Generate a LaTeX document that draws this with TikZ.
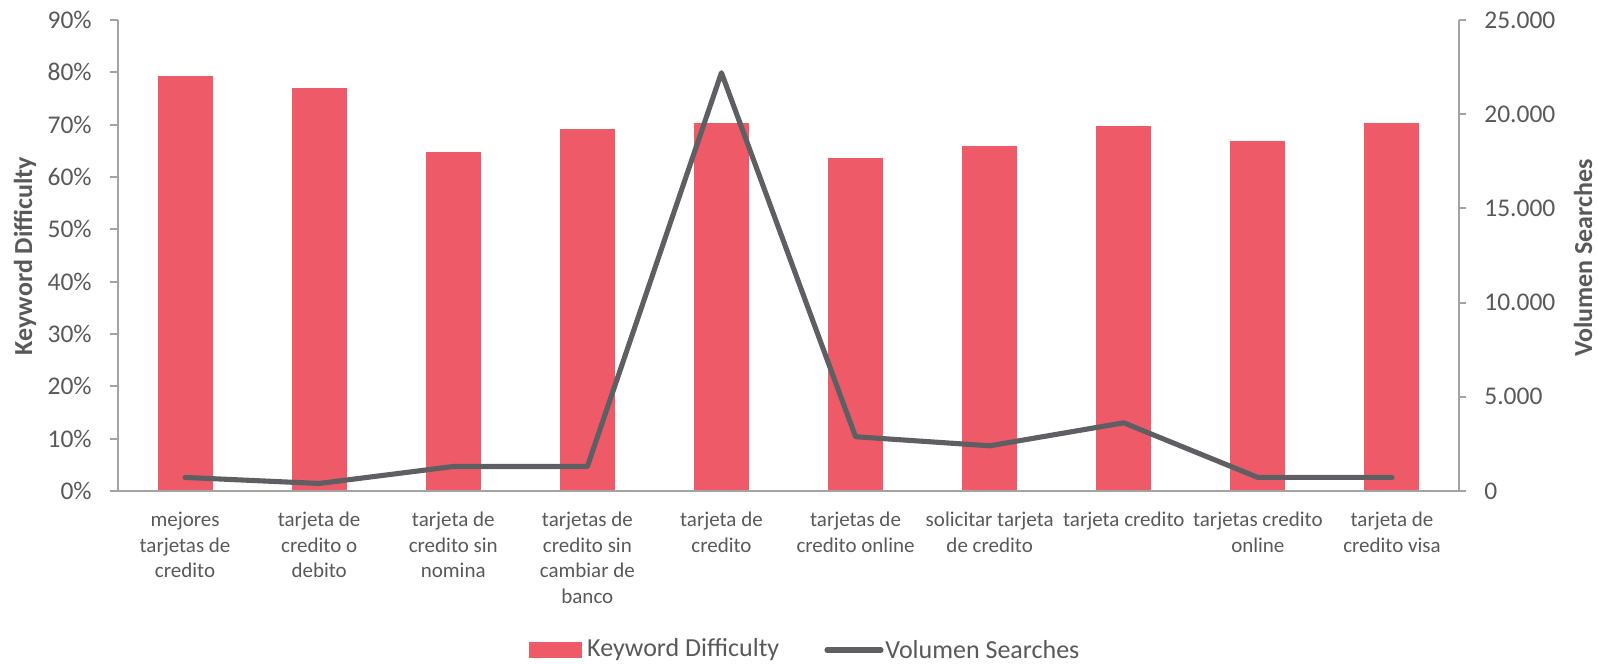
\documentclass[tikz,border=0pt]{standalone}
\usepackage{fontspec}
\setmainfont{Carlito}
\usepackage{xcolor}
\usepackage{tikz}
\usetikzlibrary{positioning}

\definecolor{kdred}{HTML}{EE5A67}
\definecolor{volgray}{HTML}{5E5F63}
\definecolor{axisgray}{HTML}{A3A3A3}
\definecolor{txtgray}{HTML}{595959}

\begin{document}
\begin{tikzpicture}[
    x=0.02cm, y=-0.02cm,
    axisline/.style={draw=axisgray, line width=1.15pt},
    kdbar/.style={fill=kdred, draw=none},
    volline/.style={draw=volgray, line width=2.9pt, line cap=round, line join=round},
    ticklabel/.style={inner sep=0pt, text=txtgray, font=\fontsize{14.5pt}{17pt}\selectfont},
    axistitle/.style={inner sep=0pt, text=txtgray, rotate=90, font=\fontsize{14.8pt}{17pt}\selectfont\bfseries},
    catlabel/.style={inner sep=0pt, anchor=north, align=center, text=txtgray, font=\fontsize{11.95pt}{14.62pt}\selectfont},
    legtext/.style={inner sep=0pt, anchor=west, text=txtgray, font=\fontsize{14.8pt}{17pt}\selectfont}
]
    \useasboundingbox (0,0) rectangle (1598,663);

    % Bars and line points (volume in thousands)
    \foreach \i/\kd/\vol in {1/79.3/0.72, 2/77.0/0.40, 3/64.8/1.30, 4/69.2/1.30, 5/70.3/22.2,
                             6/63.6/2.88, 7/66.0/2.40, 8/69.7/3.62, 9/66.9/0.72, 10/70.3/0.72} {
        \pgfmathsetmacro\cx{118+134.1*(\i-0.5)}
        \fill[kdbar] (\cx-27.5,491) rectangle (\cx+27.5,{491-\kd*5.2333});
        \coordinate (vol\i) at (\cx,{491-\vol*18.84});
    }

    % Axes
    \draw[axisline] (118,20) -- (118,491) -- (1459,491) -- (1459,20);
    \foreach \v in {0,...,9} \draw[axisline] (110,{491-\v*52.333}) -- (118,{491-\v*52.333});
    \foreach \v in {0,...,5} \draw[axisline] (1459,{491-\v*94.2}) -- (1466,{491-\v*94.2});

    % Tick labels
    \foreach \v/\t in {0/0\%, 1/10\%, 2/20\%, 3/30\%, 4/40\%, 5/50\%, 6/60\%, 7/70\%, 8/80\%, 9/90\%}
        \node[ticklabel, anchor=east] (kd\v) at (92,{491-\v*52.333}) {\t};
    \foreach \v/\t in {0/0, 1/5.000, 2/10.000, 3/15.000, 4/20.000, 5/25.000}
        \node[ticklabel, anchor=west] (vs\v) at (1484,{491-\v*94.2}) {\t};

    % Axis titles
    \node[axistitle] (kdtitle) at (25,256) {Keyword Difficulty};
    \node[axistitle] (vstitle) at (1583,258) {Volumen Searches};

    % Volume line
    \draw[volline] (vol1) -- (vol2) -- (vol3) -- (vol4) -- (vol5) -- (vol6) -- (vol7) -- (vol8) -- (vol9) -- (vol10);

    % Category labels
    \foreach \i/\lab in {1/{mejores\\tarjetas de\\credito}, 2/{tarjeta de\\credito o\\debito},
                         3/{tarjeta de\\credito sin\\nomina}, 4/{tarjetas de\\credito sin\\cambiar de\\banco},
                         5/{tarjeta de\\credito}, 6/{tarjetas de\\credito online},
                         7/{solicitar tarjeta\\de credito}, 8/{tarjeta credito},
                         9/{tarjetas credito\\online}, 10/{tarjeta de\\credito visa}} {
        \pgfmathsetmacro\cx{118+134.1*(\i-0.5)}
        \node[catlabel] (cat\i) at (\cx,508) {\strut\lab};
    }

    % Legend
    \node[kdbar, minimum width=1.068cm, minimum height=0.32cm, inner sep=0pt] (legkdbox) at (555.3,650) {};
    \node[legtext, right=0.09cm of legkdbox] (legkd) {Keyword Difficulty};
    \coordinate (legvsa) at (827,650);
    \coordinate (legvsb) at (881,650);
    \draw[volline] (legvsa) -- (legvsb);
    \node[legtext, right=0.08cm of legvsb] (legvs) {Volumen Searches};
\end{tikzpicture}
\end{document}
